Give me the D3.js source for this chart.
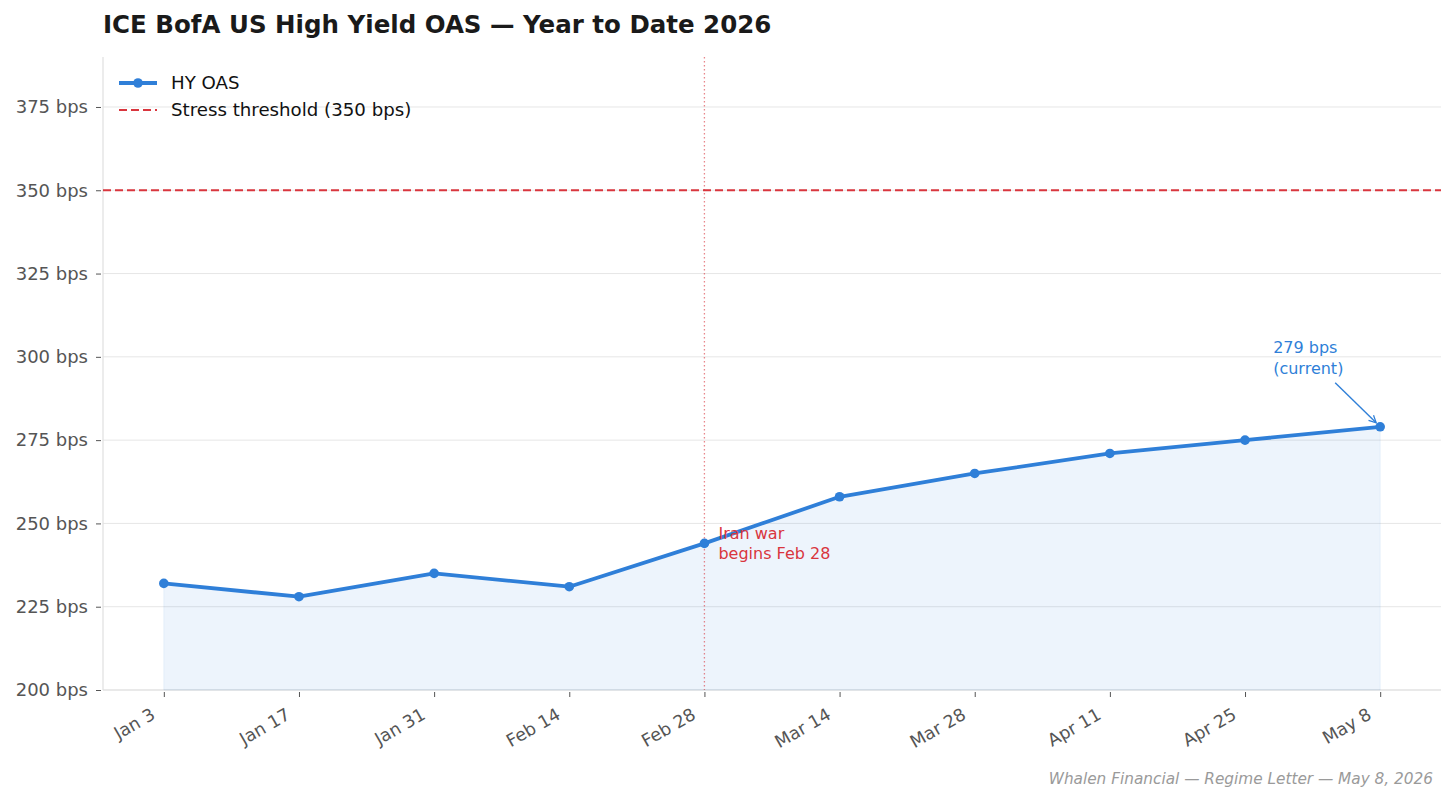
<!DOCTYPE html>
<html>
<head>
<meta charset="utf-8">
<script src="https://cdn.jsdelivr.net/npm/d3@7"></script>
<style>
  body { margin: 0; background: #fff; }
  svg { display: block; font-family: "DejaVu Sans", sans-serif; }
</style>
</head>
<body>
<svg id="chart" width="1456" height="802"></svg>
<script>
// chart data
const dates = ['Jan 3', 'Jan 17', 'Jan 31', 'Feb 14', 'Feb 28', 'Mar 14', 'Mar 28', 'Apr 11', 'Apr 25', 'May 8'];
const oas = [232, 228, 235, 231, 244, 258, 265, 271, 275, 279];
const yTicks = [200, 225, 250, 275, 300, 325, 350, 375];
const threshold = 350;
const eventDate = 'Feb 28';

const width = 1456, height = 802;
const margin = { top: 57, right: 15, bottom: 112, left: 103 };
const chartW = width - margin.left - margin.right;
const chartH = height - margin.top - margin.bottom;

const blue = '#2f7fd8', red = '#d9363e';

const svg = d3.select('#chart');

svg.append('text')
	.attr('x', 103).attr('y', 33)
	.attr('font-size', 24.5).attr('font-weight', 'bold').attr('fill', '#1a1a1a')
	.text('ICE BofA US High Yield OAS \u2014 Year to Date 2026');

const g = svg.append('g').attr('transform', `translate(${margin.left},${margin.top})`);

const x = d3.scaleLinear().domain([-0.45, dates.length - 0.55]).range([0, chartW]);
const y = d3.scaleLinear().domain([200, 390]).range([chartH, 0]);

// grid
g.append('g').selectAll('line').data(yTicks).join('line')
	.attr('x1', 0).attr('x2', chartW)
	.attr('y1', d => y(d)).attr('y2', d => y(d))
	.attr('stroke', '#e6e6e6').attr('stroke-width', 1);

// spines
g.append('line').attr('x1', 0).attr('x2', 0).attr('y1', 0).attr('y2', chartH)
	.attr('stroke', '#e0e0e0').attr('stroke-width', 1.2);
g.append('line').attr('x1', 0).attr('x2', chartW).attr('y1', chartH).attr('y2', chartH)
	.attr('stroke', '#e0e0e0').attr('stroke-width', 1.2);

// area fill
const area = d3.area().x((d, i) => x(i)).y0(y(200)).y1(d => y(d));
g.append('path').datum(oas).attr('d', area)
	.attr('fill', blue).attr('fill-opacity', 0.085)
	.attr('stroke', blue).attr('stroke-opacity', 0.08);

// threshold
g.append('line').attr('x1', 0).attr('x2', chartW)
	.attr('y1', y(threshold)).attr('y2', y(threshold))
	.attr('stroke', red).attr('stroke-width', 2.2).attr('stroke-dasharray', '8,4');

// event line
const ei = dates.indexOf(eventDate);
g.append('line').attr('x1', x(ei)).attr('x2', x(ei)).attr('y1', 0).attr('y2', chartH)
	.attr('stroke', red).attr('stroke-opacity', 0.6).attr('stroke-width', 1.3)
	.attr('stroke-dasharray', '1.5,2.5');

// main line
const line = d3.line().x((d, i) => x(i)).y(d => y(d));
g.append('path').datum(oas).attr('d', line)
	.attr('fill', 'none').attr('stroke', blue).attr('stroke-width', 3.8)
	.attr('stroke-linejoin', 'round');
g.append('g').selectAll('circle').data(oas).join('circle')
	.attr('cx', (d, i) => x(i)).attr('cy', d => y(d)).attr('r', 4.8)
	.attr('fill', blue);

// axes
const yAxis = g.append('g')
	.call(d3.axisLeft(y).tickValues(yTicks).tickSize(5).tickPadding(7).tickFormat(d => `${d} bps`));
yAxis.select('.domain').remove();
yAxis.selectAll('.tick line').attr('stroke', '#555').attr('transform', 'translate(-2,0)');
yAxis.selectAll('.tick text').attr('font-size', 18).attr('fill', '#555')
	.attr('font-family', '"DejaVu Sans", sans-serif').attr('dx', -3);

const xAxis = g.append('g').attr('transform', `translate(0,${chartH})`)
	.call(d3.axisBottom(x).tickValues(d3.range(dates.length)).tickSize(5)
		.tickFormat(i => dates[i]));
xAxis.select('.domain').remove();
xAxis.selectAll('.tick line').attr('stroke', '#555').attr('transform', 'translate(0,2)');
xAxis.selectAll('.tick text').attr('font-size', 17.5).attr('fill', '#555')
	.attr('font-family', '"DejaVu Sans", sans-serif')
	.attr('text-anchor', 'end').attr('y', 0).attr('dy', 0)
	.attr('transform', 'translate(-8,28) rotate(-30)');

// annotations
const ann = g.append('text').attr('fill', red).attr('font-size', 16)
	.attr('x', x(ei) + 14).attr('y', y(244) - 4);
ann.append('tspan').text('Iran war');
ann.append('tspan').attr('x', x(ei) + 14).attr('dy', 19.5).text('begins Feb 28');

const li = oas.length - 1;
const cur = g.append('text').attr('fill', blue).attr('font-size', 16)
	.attr('x', x(li) - 107).attr('y', y(279) - 74);
cur.append('tspan').text(`${oas[li]} bps`);
cur.append('tspan').attr('x', x(li) - 107).attr('dy', 21).text('(current)');

svg.append('defs').append('marker').attr('id', 'arr')
	.attr('viewBox', '0 0 10 10').attr('refX', 9).attr('refY', 5)
	.attr('markerWidth', 9).attr('markerHeight', 9).attr('orient', 'auto-start-reverse')
	.attr('markerUnits', 'userSpaceOnUse')
	.append('path').attr('d', 'M1,1 L9,5 L1,9').attr('fill', 'none')
	.attr('stroke', blue).attr('stroke-width', 1.4);
g.append('line')
	.attr('x1', x(li) - 45).attr('y1', y(279) - 44)
	.attr('x2', x(li) - 4).attr('y2', y(279) - 4)
	.attr('stroke', blue).attr('stroke-width', 1.4).attr('marker-end', 'url(#arr)');

// legend
const leg = svg.append('g').attr('transform', 'translate(119,83)');
leg.append('line').attr('x1', 0).attr('x2', 38).attr('y1', 0).attr('y2', 0)
	.attr('stroke', blue).attr('stroke-width', 3.8);
leg.append('circle').attr('cx', 19).attr('cy', 0).attr('r', 4.8).attr('fill', blue);
leg.append('text').attr('x', 52).attr('y', 0).attr('dy', '0.35em')
	.attr('font-size', 18.2).attr('fill', '#111').text('HY OAS');
leg.append('line').attr('x1', 0).attr('x2', 38).attr('y1', 27).attr('y2', 27)
	.attr('stroke', red).attr('stroke-width', 2.2).attr('stroke-dasharray', '8,4');
leg.append('text').attr('x', 52).attr('y', 27).attr('dy', '0.35em')
	.attr('font-size', 18.2).attr('fill', '#111').text(`Stress threshold (${threshold} bps)`);

// footer
svg.append('text').attr('x', 1433).attr('y', 784).attr('text-anchor', 'end')
	.attr('font-size', 15.3).attr('font-style', 'italic').attr('fill', '#9a9a9a')
	.text('Whalen Financial \u2014 Regime Letter \u2014 May 8, 2026');
</script>
</body>
</html>
